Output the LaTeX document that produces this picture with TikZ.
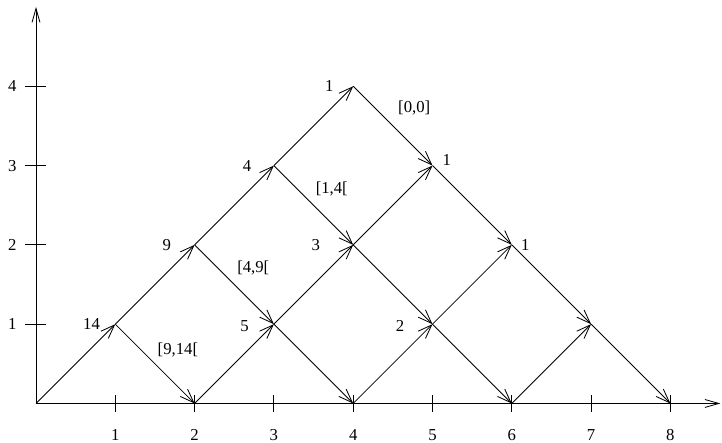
\documentclass[tikz,border=0pt]{standalone}
\usepackage{fontspec}
\setmainfont{Liberation Serif}
\usetikzlibrary{arrows.meta,positioning}
\tikzset{
  edge/.style={-{Straight Barb[length=3.5mm,width=2.6mm]}, line width=0.6pt},
  axis/.style={-{Straight Barb[length=3.5mm,width=2mm]}, line width=0.6pt},
  tmark/.style={line width=0.6pt},
  num/.style={font=\fontsize{12}{14}\selectfont, inner sep=0pt}
}

\begin{document}
\begin{tikzpicture}[x=2cm, y=2cm]
\useasboundingbox (-0.454,-0.491) rectangle (8.651,5.088);
% axes
\coordinate (p00) at (0,0);
\coordinate (xend) at (8.63,0);
\coordinate (yend) at (0,5.0);
\draw[axis] (p00) -- (xend);
\draw[axis] (p00) -- (yend);
\draw[tmark] (1,-0.11) -- (1,0.11);
\draw[tmark] (2,-0.11) -- (2,0.11);
\draw[tmark] (3,-0.11) -- (3,0.11);
\draw[tmark] (4,-0.11) -- (4,0.11);
\draw[tmark] (5,-0.11) -- (5,0.11);
\draw[tmark] (6,-0.11) -- (6,0.11);
\draw[tmark] (7,-0.11) -- (7,0.11);
\draw[tmark] (8,-0.11) -- (8,0.11);
\draw[tmark] (-0.14,1) -- (0.13,1);
\draw[tmark] (-0.14,2) -- (0.13,2);
\draw[tmark] (-0.14,3) -- (0.13,3);
\draw[tmark] (-0.14,4) -- (0.13,4);
\node[num] (x1) at (1,-0.40) {1};
\node[num] (x2) at (2,-0.40) {2};
\node[num] (x3) at (3,-0.40) {3};
\node[num] (x4) at (4,-0.40) {4};
\node[num] (x5) at (5,-0.40) {5};
\node[num] (x6) at (6,-0.40) {6};
\node[num] (x7) at (7,-0.40) {7};
\node[num] (x8) at (8,-0.40) {8};
\node[num] (y1) at (-0.30,1) {1};
\node[num] (y2) at (-0.30,2) {2};
\node[num] (y3) at (-0.30,3) {3};
\node[num] (y4) at (-0.30,4) {4};
% lattice points
\coordinate (p11) at (1,1);
\coordinate (p20) at (2,0);
\coordinate (p22) at (2,2);
\coordinate (p31) at (3,1);
\coordinate (p33) at (3,3);
\coordinate (p40) at (4,0);
\coordinate (p42) at (4,2);
\coordinate (p44) at (4,4);
\coordinate (p51) at (5,1);
\coordinate (p53) at (5,3);
\coordinate (p60) at (6,0);
\coordinate (p62) at (6,2);
\coordinate (p71) at (7,1);
\coordinate (p80) at (8,0);
% up steps
\draw[edge] (p00) -- (p11);
\draw[edge] (p11) -- (p22);
\draw[edge] (p22) -- (p33);
\draw[edge] (p33) -- (p44);
\draw[edge] (p20) -- (p31);
\draw[edge] (p31) -- (p42);
\draw[edge] (p42) -- (p53);
\draw[edge] (p40) -- (p51);
\draw[edge] (p51) -- (p62);
\draw[edge] (p60) -- (p71);
% down steps
\draw[edge] (p11) -- (p20);
\draw[edge] (p22) -- (p31);
\draw[edge] (p31) -- (p40);
\draw[edge] (p33) -- (p42);
\draw[edge] (p42) -- (p51);
\draw[edge] (p51) -- (p60);
\draw[edge] (p44) -- (p53);
\draw[edge] (p53) -- (p62);
\draw[edge] (p62) -- (p71);
\draw[edge] (p71) -- (p80);
% counts
\node[num] (c11) at (0.70,1.0) {14};
\node[num] (c22) at (1.65,2.0) {9};
\node[num] (c33) at (2.66,3.0) {4};
\node[num] (c44) at (3.70,4.0) {1};
\node[num] (c53) at (5.18,3.07) {1};
\node[num] (c62) at (6.17,2.0) {1};
\node[num] (c42) at (3.53,2.0) {3};
\node[num] (c31) at (2.63,0.98) {5};
\node[num] (c51) at (4.59,0.98) {2};
% intervals
\node[num] (r0) at (4.77,3.73) {[0,0]};
\node[num] (r1) at (3.73,2.71) {[1,4[};
\node[num] (r2) at (2.74,1.71) {[4,9[};
\node[num] (r3) at (1.79,0.68) {[9,14[};
\end{tikzpicture}
\end{document}
